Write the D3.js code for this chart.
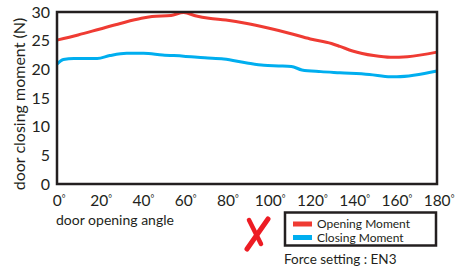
<!DOCTYPE html>
<html>
<head>
<meta charset="utf-8">
<script src="https://cdn.jsdelivr.net/npm/d3@7"></script>
<style>
  body { margin: 0; background: #fff; }
  svg { display: block; font-family: Lato, "Open Sans", sans-serif; }
</style>
</head>
<body>
<div id="chart"></div>
<script>
// door opening angle (deg) -> moment (N)
const openingAngles = [0, 10, 20, 30, 40, 45, 54, 60, 66, 72, 80, 90, 100, 110, 120, 130, 134, 140, 150, 158, 166, 180];
const openingMoment = [25.1, 26.0, 27.0, 28.0, 28.9, 29.2, 29.4, 29.9, 29.3, 28.9, 28.6, 28.0, 27.2, 26.3, 25.3, 24.5, 24.0, 23.2, 22.4, 22.1, 22.2, 23.0];

const closingAngles = [0, 3, 8, 19, 25, 33, 41, 50, 60, 70, 79, 90, 98, 105, 111, 116, 125, 134, 148, 158, 161, 180];
const closingMoment = [20.9, 21.7, 21.9, 21.9, 22.4, 22.8, 22.8, 22.5, 22.3, 22.0, 21.8, 21.1, 20.7, 20.6, 20.5, 19.9, 19.6, 19.4, 19.1, 18.7, 18.7, 19.7];

const yTicks = [0, 5, 10, 15, 20, 25, 30];
const xTicks = [0, 20, 40, 60, 80, 100, 120, 140, 160, 180];
const seriesNames = ["Opening Moment", "Closing Moment"];
const seriesColors = ["#ef3b33", "#00aeef"];

const width = 456, height = 267;
const margin = { top: 12, right: 19, bottom: 83, left: 57 };

const svg = d3.select("#chart").append("svg")
  .attr("width", width)
  .attr("height", height);

const x = d3.scaleLinear().domain([0, 180]).range([margin.left, width - margin.right]);
const y = d3.scaleLinear().domain([0, 30]).range([height - margin.bottom, margin.top]);

const line = d3.line()
  .x(d => x(d[0]))
  .y(d => y(d[1]))
  .curve(d3.curveMonotoneX);

const series = [
  d3.zip(openingAngles, openingMoment),
  d3.zip(closingAngles, closingMoment)
];

// lines
svg.append("g")
  .selectAll("path")
  .data(series)
  .join("path")
  .attr("fill", "none")
  .attr("stroke", (d, i) => seriesColors[i])
  .attr("stroke-width", 3)
  .attr("stroke-linejoin", "round")
  .attr("d", line);

// frame
svg.append("rect")
  .attr("x", x(0))
  .attr("y", y(30))
  .attr("width", x(180) - x(0))
  .attr("height", y(0) - y(30))
  .attr("fill", "none")
  .attr("stroke", "#231f20")
  .attr("stroke-width", 2.5);

// y tick labels
svg.append("g")
  .selectAll("text")
  .data(yTicks)
  .join("text")
  .attr("x", 50)
  .attr("y", d => y(d))
  .attr("dy", "0.36em")
  .attr("text-anchor", "end")
  .attr("font-size", 16)
  .attr("fill", "#231f20")
  .text(d => d);

// x tick labels
const xt = svg.append("g")
  .selectAll("text")
  .data(xTicks)
  .join("text")
  .attr("x", d => x(d) + 2)
  .attr("y", 206)
  .attr("text-anchor", "middle")
  .attr("font-size", 15.5)
  .attr("fill", "#231f20");
xt.append("tspan").text(d => d);
xt.append("tspan").attr("font-size", 9).attr("dy", -4).text("°");

// axis titles
svg.append("text")
  .attr("transform", `translate(25,104) rotate(-90)`)
  .attr("text-anchor", "middle")
  .attr("font-size", 16)
  .attr("fill", "#231f20")
  .text("door closing moment (N)");

svg.append("text")
  .attr("x", 56)
  .attr("y", 225)
  .attr("font-size", 14)
  .attr("fill", "#231f20")
  .text("door opening angle");

// red cross mark
svg.append("g")
  .attr("fill", "none")
  .attr("stroke", "#ed1c24")
  .attr("stroke-linecap", "round")
  .selectAll("path")
  .data([[[249, 220], [261, 244]], [[268, 219], [247, 249]]])
  .join("path")
  .attr("stroke-width", (d, i) => i ? 5 : 4.5)
  .attr("d", d3.line());

// legend
const legend = svg.append("g");
legend.append("rect")
  .attr("x", 285)
  .attr("y", 212.5)
  .attr("width", 151)
  .attr("height", 33)
  .attr("fill", "#fff")
  .attr("stroke", "#231f20")
  .attr("stroke-width", 2.5);

const item = legend.selectAll("g")
  .data(seriesNames)
  .join("g")
  .attr("transform", (d, i) => `translate(293,${224 + i * 13.5})`);
item.append("rect")
  .attr("y", -2.5)
  .attr("width", 19)
  .attr("height", 5)
  .attr("fill", (d, i) => seriesColors[i]);
item.append("text")
  .attr("x", 24)
  .attr("y", 4)
  .attr("font-size", 12)
  .attr("fill", "#231f20")
  .text(d => d);

svg.append("text")
  .attr("x", 284)
  .attr("y", 264)
  .attr("font-size", 13.5)
  .attr("fill", "#231f20")
  .text("Force setting : EN3");
</script>
</body>
</html>
